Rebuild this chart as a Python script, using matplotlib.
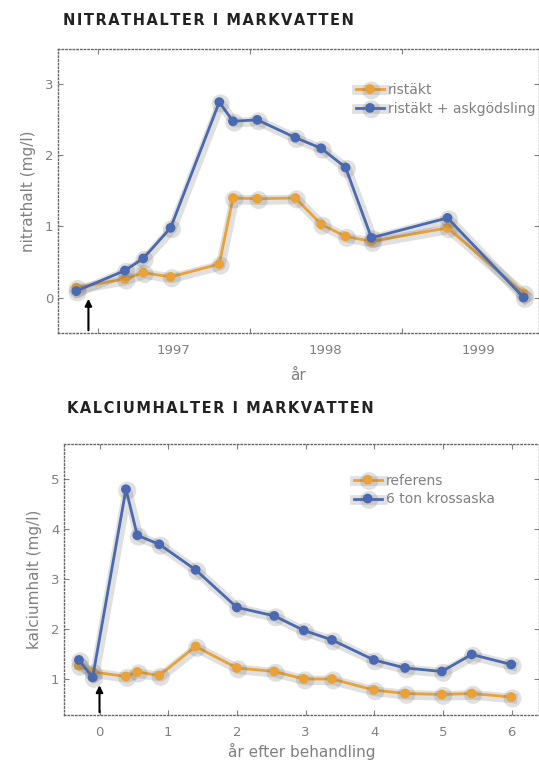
import matplotlib.pyplot as plt
import matplotlib.patheffects as pe

# nitrate data (year as decimal)
nit_x = [1996.86, 1997.18, 1997.30, 1997.48, 1997.80, 1997.89, 1998.05, 1998.30,
         1998.47, 1998.63, 1998.80, 1999.30, 1999.80]
nit_ristakt = [0.14, 0.26, 0.35, 0.29, 0.47, 1.40, 1.39, 1.40, 1.03, 0.86, 0.79, 0.98, 0.06]
nit_aska = [0.09, 0.38, 0.55, 0.98, 2.75, 2.48, 2.50, 2.25, 2.10, 1.83, 0.84, 1.12, 0.0]
nit_years = ["1997", "1998", "1999"]

# calcium data (years after treatment)
ca_x = [-0.3, -0.1, 0.385, 0.55, 0.87, 1.4, 2.0, 2.545, 2.975, 3.385, 3.995, 4.45,
        4.985, 5.42, 5.995]
ca_ref = [1.27, 1.14, 1.05, 1.14, 1.07, 1.65, 1.22, 1.15, 1.0, 1.0, 0.78, 0.71, 0.69, 0.71, 0.64]
ca_aska = [1.38, 1.03, 4.79, 3.87, 3.69, 3.18, 2.43, 2.26, 1.97, 1.78, 1.38, 1.22, 1.15, 1.49, 1.29]

ORANGE = "#E9A237"
BLUE = "#4A69B3"
GREY = "#808080"

shadow = [pe.SimpleLineShadow(offset=(1, -1), shadow_color="#666666", alpha=0.2, linewidth=7),
          pe.Normal()]

fig = plt.figure(figsize=(5.39, 7.6), dpi=100)
ax1 = fig.add_axes([0.1076, 0.5618, 0.892, 0.374])
ax2 = fig.add_axes([0.119, 0.0592, 0.881, 0.357])


def style(ax):
    for s in ax.spines.values():
        s.set_linestyle(":")
        s.set_color("#666666")
        s.set_linewidth(1.0)
    ax.tick_params(which="both", direction="in", top=True, right=True, colors=GREY,
                   labelsize=9.5, labelcolor=GREY)


def spaced(s):
    # widen letter spacing with hair spaces
    return "\u200a".join(s)


for ax, x, ys, labels, anchor in [
        (ax1, nit_x, [nit_ristakt, nit_aska], ["ristäkt", "ristäkt + askgödsling"], (0.62, 0.88)),
        (ax2, ca_x, [ca_ref, ca_aska], ["referens", "6 ton krossaska"], (0.61, 0.89))]:
    for y, c, lab in zip(ys, [ORANGE, BLUE], labels):
        ax.plot(x, y, color=c, lw=2, marker="o", ms=6, mec=c, label=lab, path_effects=shadow)
    style(ax)
    leg = ax.legend(frameon=False, fontsize=10, handlelength=2.0, handletextpad=0.3,
                    labelspacing=0.35, loc="upper left", borderpad=0, borderaxespad=0,
                    bbox_to_anchor=anchor)
    for t in leg.get_texts():
        t.set_color(GREY)

# top panel
ax1.set_xlim(1996.74, 1999.9)
ax1.set_ylim(-0.5, 3.5)
ax1.set_yticks([0, 1, 2, 3])
ax1.set_xticks([1997, 1998, 1999])
ax1.set_xticklabels([])
ax1.set_xticks([1997.5, 1998.5, 1999.5], minor=True)
ax1.set_xticklabels(nit_years, minor=True)
ax1.tick_params(axis="x", which="minor", length=0, pad=8)
ax1.set_ylabel("nitrathalt (mg/l)", color=GREY, fontsize=11, labelpad=6)
ax1.set_xlabel("år", color=GREY, fontsize=11, labelpad=8)
ax1.annotate("", xy=(1996.94, 0.02), xytext=(1996.94, -0.5),
             arrowprops=dict(arrowstyle="-|>", color="black", lw=1.5, mutation_scale=10))

# bottom panel
ax2.set_xlim(-0.515, 6.4)
ax2.set_ylim(0.28, 5.7)
ax2.set_yticks([1, 2, 3, 4, 5])
ax2.set_xticks([0, 1, 2, 3, 4, 5, 6])
ax2.tick_params(axis="x", pad=8)
ax2.set_ylabel("kalciumhalt (mg/l)", color=GREY, fontsize=11, labelpad=6)
ax2.set_xlabel("år efter behandling", color=GREY, fontsize=11, labelpad=3)
ax2.annotate("", xy=(0, 0.93), xytext=(0, 0.28),
             arrowprops=dict(arrowstyle="-|>", color="black", lw=1.5, mutation_scale=10))

fig.text(0.117, 0.973, spaced("NITRATHALTER I MARKVATTEN"), fontsize=10.5, fontweight="heavy",
         color="#222222", va="center")
fig.text(0.124, 0.463, spaced("KALCIUMHALTER I MARKVATTEN"), fontsize=10.5, fontweight="heavy",
         color="#222222", va="center")

fig.savefig("out.png", dpi=100)
